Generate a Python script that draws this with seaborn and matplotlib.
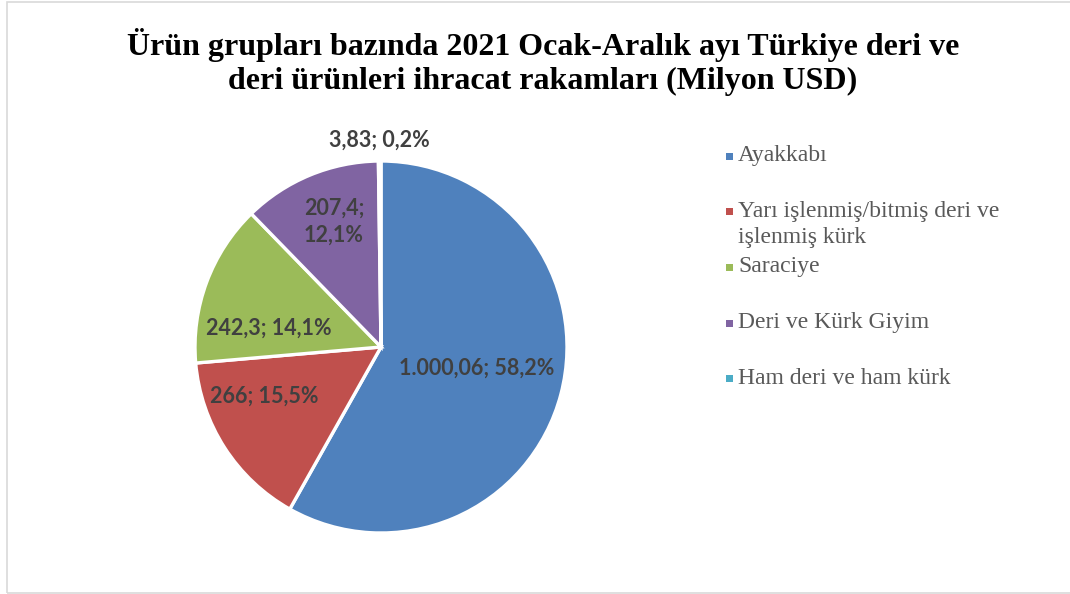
import numpy as np
import matplotlib
matplotlib.use("Agg")
import matplotlib.pyplot as plt
import seaborn as sns
from matplotlib.patches import Rectangle

# ==========================================
# 2021 Ocak-Aralık deri ve deri ürünleri ihracatı
# ==========================================

categories = [
    "Ayakkabı",
    "Yarı işlenmiş/bitmiş deri ve\nişlenmiş kürk",
    "Saraciye",
    "Deri ve Kürk Giyim",
    "Ham deri ve ham kürk",
]
values = [1000.06, 266.0, 242.3, 207.4, 3.83]
value_labels = ["1.000,06", "266", "242,3", "207,4", "3,83"]

colors = ["#4F81BD", "#C0504D", "#9BBB59", "#8064A2", "#4BACC6"]

title = ("Ürün grupları bazında 2021 Ocak-Aralık ayı Türkiye deri ve\n"
         "deri ürünleri ihracat rakamları (Milyon USD)")

sns.set_theme(style="white")

W, H = 1070, 594
fig = plt.figure(figsize=(W / 100, H / 100), dpi=100)
fig.patch.set_facecolor("white")

# outer chart frame
fig.patches.append(Rectangle((7 / W, 1 / H), 1.2, (591 / H), transform=fig.transFigure,
                             fill=False, edgecolor="#D9D9D9", linewidth=1.2))

# pie axes: centre (381, 347) px, radius 186 px
cx, cy, r = 381, 347, 186
ax = fig.add_axes([(cx - r) / W, 1 - (cy + r) / H, 2 * r / W, 2 * r / H])

wedges, _ = ax.pie(
    values,
    colors=colors,
    startangle=90,
    counterclock=False,
    wedgeprops=dict(edgecolor="white", linewidth=2.4),
)
ax.set_xlim(-1, 1)
ax.set_ylim(-1, 1)
ax.set_aspect("equal")
ax.axis("off")

# data labels
total = sum(values)
label_texts = []
for v, lab in zip(values, value_labels):
    pct = f"{v / total * 100:.1f}".replace(".", ",")
    label_texts.append(f"{lab}; {pct}%")
label_texts[3] = label_texts[3].replace("; ", ";\n")

dist = [0.53, 0.68, 0.61, 0.72, 1.11]
shift = [2, -10, 11, -2, 0]
for w, txt, d, s in zip(wedges, label_texts, dist, shift):
    ang = np.deg2rad((w.theta1 + w.theta2) / 2 + s)
    ax.text(d * np.cos(ang), d * np.sin(ang), txt, ha="center", va="center",
            fontsize=15.5, fontweight="bold", color="#404040",
            family=["Lato", "DejaVu Sans"], linespacing=1.35, clip_on=False)

# title
fig.text(543 / W, 1 - 62 / H, title, ha="center", va="center",
         fontsize=23, fontweight="bold", family=["Liberation Serif"],
         color="black", linespacing=1.2)

# legend
for i, (c, name) in enumerate(zip(colors, categories)):
    y = 157 + 55.7 * i
    fig.patches.append(Rectangle((726 / W, 1 - (y + 2.5) / H), 7 / W, 7 / H,
                                 transform=fig.transFigure, facecolor=c,
                                 edgecolor="none"))
    fig.text(738 / W, 1 - (y - 12) / H, name, ha="left", va="top",
             fontsize=17, family=["Liberation Serif"], color="#595959",
             linespacing=1.3)

plt.savefig("out.png", dpi=100)
